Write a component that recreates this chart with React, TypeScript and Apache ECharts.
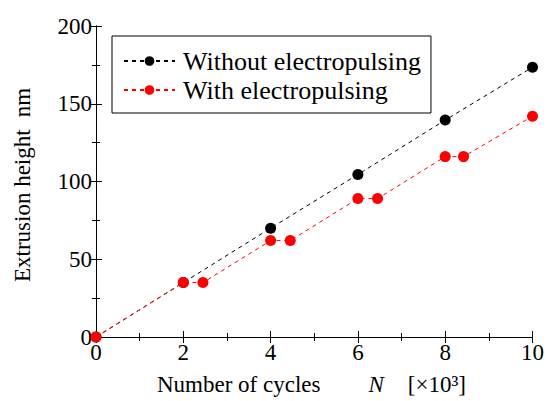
import React, { useEffect, useRef } from "react";
import * as echarts from "echarts";

const withoutX = [0, 2, 4, 6, 8, 10];
const withoutY = [0, 35, 70, 104.5, 139.5, 173.5];
const withX = [0, 2, 2.45, 4, 4.45, 6, 6.45, 8, 8.42, 10];
const withY = [0, 35, 35, 62, 62, 89, 89, 116, 116, 142];
const seriesNames = ["Without electropulsing", "With electropulsing"];
const xTitle = ["Number of cycles", "N", "[×10³]"];
const yTitle = ["Extrusion height", "nm"];

const FONT = "Liberation Serif";
const FS = 23;
const LFS = 26;

const t = (s: string) => `{a|${s}}`;

export default function App() {
  const ref = useRef<HTMLDivElement>(null);
  useEffect(() => {
    const chart = echarts.init(ref.current!, null, { renderer: "svg" });
    const richA = { a: { fontFamily: FONT, fontSize: FS, color: "#000" } };
    const axisCommon = {
      axisLine: { show: true, lineStyle: { color: "#000", width: 1 } },
      splitLine: { show: false },
    };
    chart.setOption({
      animation: false,
      backgroundColor: "#fff",
      grid: { left: 96, right: 14, top: 26, bottom: 64 },
      graphic: [
        {
          type: "text",
          left: 157,
          top: 373,
          style: {
            text: `{a|${xTitle[0]}}{i|${xTitle[1]}}{b|${xTitle[2]}}`,
            fontFamily: FONT,
            fontSize: FS,
            fill: "#000",
            rich: {
              a: { fontFamily: FONT, fontSize: FS, fill: "#000" },
              i: { fontFamily: FONT, fontSize: FS, fontStyle: "italic", fill: "#000", padding: [0, 0, 0, 48] },
              b: { fontFamily: FONT, fontSize: FS, fill: "#000", padding: [0, 0, 0, 24] },
            },
          },
        },
        {
          type: "text",
          x: 22,
          y: 185,
          rotation: Math.PI / 2,
          style: {
            text: `{a|${yTitle[0]}}{b|${yTitle[1]}}`,
            fontFamily: FONT,
            fontSize: FS,
            fill: "#000",
            align: "center",
            verticalAlign: "middle",
            rich: {
              a: { fontFamily: FONT, fontSize: FS, fill: "#000" },
              b: { fontFamily: FONT, fontSize: FS, fill: "#000", padding: [0, 0, 0, 12] },
            },
          },
        },
      ],
      legend: {
        left: 112,
        top: 36,
        orient: "vertical",
        backgroundColor: "#fff",
        borderColor: "#000",
        borderWidth: 1,
        borderRadius: 0,
        padding: [12, 10, 10, 11],
        itemGap: 3,
        itemWidth: 51,
        itemHeight: 12,
        formatter: (n: string) => t(n),
        textStyle: {
          fontFamily: FONT,
          fontSize: LFS,
          color: "#000",
          rich: { a: { fontFamily: FONT, fontSize: LFS, color: "#000", padding: [0, 0, 0, 3] } },
        },
        data: seriesNames,
      },
      xAxis: [
        {
          ...axisCommon,
          type: "value",
          min: 0,
          max: 10,
          interval: 2,
          position: "bottom",
          axisTick: { show: true, inside: true, length: 6, lineStyle: { color: "#000" } },
          minorTick: { show: true, splitNumber: 2, length: 4, lineStyle: { color: "#000" } },
          axisLabel: {
            fontFamily: FONT,
            fontSize: FS,
            color: "#000",
            margin: 4,
            formatter: (v: number) => t(String(v)),
            rich: richA,
          },
        },
        {
          ...axisCommon,
          type: "value",
          min: 0,
          max: 10,
          interval: 2,
          position: "top",
          axisTick: { show: true, inside: true, length: 6, lineStyle: { color: "#000" } },
          minorTick: { show: true, splitNumber: 2, length: 4, lineStyle: { color: "#000" } },
          axisLabel: { show: false },
        },
      ],
      yAxis: [
        {
          ...axisCommon,
          type: "value",
          min: 0,
          max: 200,
          interval: 50,
          position: "left",
          axisTick: { show: true, inside: true, length: 6, lineStyle: { color: "#000" } },
          minorTick: { show: true, splitNumber: 2, length: 4, lineStyle: { color: "#000" } },
          axisLabel: {
            fontFamily: FONT,
            fontSize: FS,
            color: "#000",
            margin: 4,
            formatter: (v: number) => t(String(v)),
            rich: richA,
          },
        },
        {
          ...axisCommon,
          type: "value",
          min: 0,
          max: 200,
          interval: 50,
          position: "right",
          axisTick: { show: true, inside: true, length: 6, lineStyle: { color: "#000" } },
          minorTick: { show: true, splitNumber: 2, length: 4, lineStyle: { color: "#000" } },
          axisLabel: { show: false },
        },
      ],
      series: [
        {
          name: seriesNames[0],
          type: "line",
          data: withoutX.map((x, i) => [x, withoutY[i]]),
          symbol: "circle",
          symbolSize: 11,
          itemStyle: { color: "#000" },
          lineStyle: { color: "#000", width: 1, type: [4, 4] },
        },
        {
          name: seriesNames[1],
          type: "line",
          data: withX.map((x, i) => [x, withY[i]]),
          symbol: "circle",
          symbolSize: 11,
          itemStyle: { color: "#ff0000" },
          lineStyle: { color: "#ff0000", width: 1, type: [4, 4] },
        },
      ],
    });
    return () => chart.dispose();
  }, []);
  return <div ref={ref} style={{ width: 547, height: 401, position: "absolute", left: 0, top: 0 }} />;
}
